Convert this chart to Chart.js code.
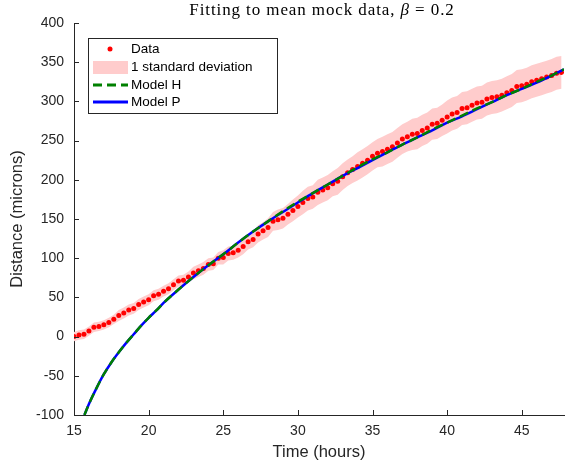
<!DOCTYPE html>
<html>
<head>
<meta charset="utf-8">
<script src="https://cdn.jsdelivr.net/npm/chart.js@4.4.0/dist/chart.umd.min.js"></script>
<style>
  html, body { margin: 0; padding: 0; background: #fff; }
</style>
</head>
<body>
<canvas id="fitChart" width="568" height="465"></canvas>
<script>
// mock data is sampled every 20 minutes starting at 15 h
const firstHour = 15;
const stepHours = 1 / 3;

// mean mock data (microns)
const distance = [
  0, 2, 3, 7, 12, 13, 15, 18, 22, 27,
  30, 34, 36, 41, 44, 47, 52, 54, 58, 61,
  66, 71, 72, 76, 81, 84, 87, 92, 93, 100,
  101, 106, 107, 110, 115, 121, 124, 131, 135, 139,
  147, 149, 151, 156, 161, 166, 171, 176, 178, 184,
  187, 190, 195, 198, 204, 209, 213, 217, 221, 225,
  230, 234, 236, 239, 242, 247, 252, 255, 258, 259,
  263, 266, 271, 272, 276, 280, 284, 286, 291, 292,
  295, 298, 299, 303, 305, 306, 308, 311, 314, 319,
  320, 322, 325, 327, 329, 331, 333, 336, 337
];

// one standard deviation around the mean (microns)
const stdDev = [
  6, 6, 6, 6, 6, 6, 6, 6, 6, 7,
  7, 7, 7, 7, 7, 7, 7, 7, 7, 7,
  7, 7, 7, 7, 8, 8, 8, 8, 8, 8,
  9, 9, 9, 9, 10, 10, 10, 11, 11, 12,
  12, 13, 13, 13, 14, 14, 15, 15, 15, 16,
  16, 16, 16, 17, 17, 17, 17, 18, 18, 18,
  18, 18, 19, 19, 19, 19, 19, 19, 20, 20,
  20, 20, 20, 20, 20, 21, 21, 21, 21, 21,
  21, 21, 21, 21, 21, 21, 21, 21, 21, 21,
  21, 21, 21, 21, 21, 21, 21, 21, 21
];

// fitted models
const modelTimes = [15.7, 16, 16.5, 17, 17.5, 18, 18.5, 19, 19.5, 20, 20.5, 21,
  22, 23, 24, 25, 26, 27, 28, 29, 30, 31, 32, 33, 34, 35, 36, 37, 38, 39, 40,
  41, 42, 43, 44, 45, 46, 47, 47.83];
const modelH = [-100, -86, -66, -48, -33, -20, -8, 3, 14, 24, 33, 43,
  60, 76, 91, 105, 120, 134, 147, 160, 172, 183, 194, 205, 216, 226, 235, 245, 254, 264, 273,
  282, 291, 299, 308, 316, 325, 333, 341];
const modelP = [-100, -86, -66, -48, -33, -20, -8, 3, 14, 24, 33, 43,
  60, 76, 91, 105, 120, 134, 147, 159, 171, 183, 194, 205, 215, 225, 235, 245, 254, 263, 273,
  281, 290, 299, 308, 316, 324, 333, 341];

const xTicks = [15, 20, 25, 30, 35, 40, 45];
const yTicks = [-100, -50, 0, 50, 100, 150, 200, 250, 300, 350, 400];

const axisColor = '#262626';
const bandColor = '#ffcccc';

const times = distance.map((d, i) => firstHour + i * stepHours);
const dataPts = times.map((t, i) => ({ x: t, y: distance[i] }));
const upperPts = times.map((t, i) => ({ x: t, y: distance[i] + stdDev[i] }));
const lowerPts = times.map((t, i) => ({ x: t, y: distance[i] - stdDev[i] }));
const hPts = modelTimes.map((t, i) => ({ x: t, y: modelH[i] }));
const pPts = modelTimes.map((t, i) => ({ x: t, y: modelP[i] }));

// MATLAB style ticks pointing into the plot
const inwardTicks = {
  id: 'inwardTicks',
  afterDraw(chart) {
    const { ctx, chartArea: a, scales: { x, y } } = chart;
    ctx.save();
    ctx.strokeStyle = axisColor;
    ctx.lineWidth = 1;
    ctx.beginPath();
    xTicks.forEach(v => {
      const px = Math.round(x.getPixelForValue(v)) + 0.5;
      ctx.moveTo(px, a.bottom);
      ctx.lineTo(px, a.bottom - 5);
    });
    yTicks.forEach(v => {
      const py = Math.round(y.getPixelForValue(v)) + 0.5;
      ctx.moveTo(a.left, py);
      ctx.lineTo(a.left + 5, py);
    });
    ctx.stroke();
    ctx.restore();
  }
};

// title with an italic beta
const mixedTitle = {
  id: 'mixedTitle',
  afterDraw(chart) {
    const ctx = chart.ctx;
    const parts = [
      ['Fitting to mean mock data, ', 'normal'],
      ['β', 'italic'],
      [' = 0.2', 'normal']
    ];
    ctx.save();
    ctx.fillStyle = '#000';
    ctx.textBaseline = 'alphabetic';
    ctx.letterSpacing = '0.9px';
    let total = 0;
    parts.forEach(p => {
      ctx.font = p[1] + ' 17px "Liberation Serif", serif';
      total += ctx.measureText(p[0]).width;
    });
    let cx = 322 - total / 2;
    parts.forEach(p => {
      ctx.font = p[1] + ' 17px "Liberation Serif", serif';
      ctx.fillText(p[0], cx, 15);
      cx += ctx.measureText(p[0]).width;
    });
    ctx.restore();
  }
};

// legend box in the upper left corner
const boxLegend = {
  id: 'boxLegend',
  afterDraw(chart) {
    const ctx = chart.ctx;
    ctx.save();
    ctx.fillStyle = '#fff';
    ctx.fillRect(88.5, 38.5, 189, 75);
    ctx.strokeStyle = axisColor;
    ctx.lineWidth = 1;
    ctx.strokeRect(88.5, 38.5, 189, 75);

    // Data marker
    ctx.fillStyle = '#ff0000';
    ctx.beginPath();
    ctx.arc(110, 49, 2.5, 0, Math.PI * 2);
    ctx.fill();
    // std band swatch
    ctx.fillStyle = bandColor;
    ctx.fillRect(93, 61, 35, 13);
    // Model H
    ctx.strokeStyle = '#008000';
    ctx.lineWidth = 3;
    ctx.setLineDash([9, 5]);
    ctx.beginPath();
    ctx.moveTo(93, 85);
    ctx.lineTo(128, 85);
    ctx.stroke();
    // Model P
    ctx.setLineDash([]);
    ctx.strokeStyle = '#0000ff';
    ctx.beginPath();
    ctx.moveTo(93, 102);
    ctx.lineTo(128, 102);
    ctx.stroke();

    ctx.fillStyle = '#000';
    ctx.font = '13.5px "Liberation Sans", Arial, sans-serif';
    ctx.textBaseline = 'middle';
    ctx.fillText('Data', 131, 49);
    ctx.fillText('1 standard deviation', 131, 67);
    ctx.fillText('Model H', 131, 85);
    ctx.fillText('Model P', 131, 102);
    ctx.restore();
  }
};

const tickFont = { family: '"Liberation Sans", Arial, sans-serif', size: 14 };
const labelFont = { family: '"Liberation Sans", Arial, sans-serif', size: 16.5 };

new Chart(document.getElementById('fitChart'), {
  type: 'line',
  data: {
    datasets: [
      {
        label: 'Model H',
        data: hPts,
        borderColor: '#008000',
        borderWidth: 2.5,
        borderDash: [9, 5],
        pointRadius: 0,
        fill: false,
        cubicInterpolationMode: 'monotone'
      },
      {
        label: 'Model P',
        data: pPts,
        borderColor: '#0000ff',
        borderWidth: 2.5,
        pointRadius: 0,
        fill: false,
        cubicInterpolationMode: 'monotone'
      },
      {
        label: 'Data',
        data: dataPts,
        showLine: false,
        pointRadius: 2.5,
        pointBackgroundColor: '#ff0000',
        pointBorderWidth: 0,
        borderColor: '#ff0000'
      },
      {
        label: '1 standard deviation',
        data: upperPts,
        borderColor: 'rgba(0,0,0,0)',
        borderWidth: 1,
        pointRadius: 0,
        backgroundColor: bandColor,
        fill: 4
      },
      {
        label: 'lower',
        data: lowerPts,
        borderColor: 'rgba(0,0,0,0)',
        borderWidth: 1,
        pointRadius: 0,
        fill: false
      }
    ]
  },
  options: {
    responsive: false,
    animation: false,
    layout: { padding: { top: 23, right: 0, left: 0, bottom: 0 } },
    plugins: {
      legend: { display: false },
      tooltip: { enabled: false },
      title: { display: false }
    },
    scales: {
      x: {
        type: 'linear',
        min: 15,
        max: 47.83,
        afterBuildTicks: s => { s.ticks = xTicks.map(v => ({ value: v })); },
        afterFit: s => { s.height = 50; },
        grid: { display: false, drawTicks: false },
        border: { display: true, color: axisColor, width: 1 },
        ticks: { font: tickFont, color: axisColor, padding: 8, maxRotation: 0 },
        title: { display: true, text: 'Time (hours)', font: labelFont, color: axisColor, padding: { top: 0, bottom: 3 } }
      },
      y: {
        min: -100,
        max: 400,
        afterBuildTicks: s => { s.ticks = yTicks.map(v => ({ value: v })); },
        afterFit: s => { s.width = 74; },
        grid: { display: false, drawTicks: false },
        border: { display: true, color: axisColor, width: 1 },
        ticks: { font: tickFont, color: axisColor, padding: 10 },
        title: { display: true, text: 'Distance (microns)', font: labelFont, color: axisColor, padding: { top: 8, bottom: 0 } }
      }
    }
  },
  plugins: [inwardTicks, mixedTitle, boxLegend]
});
</script>
</body>
</html>
